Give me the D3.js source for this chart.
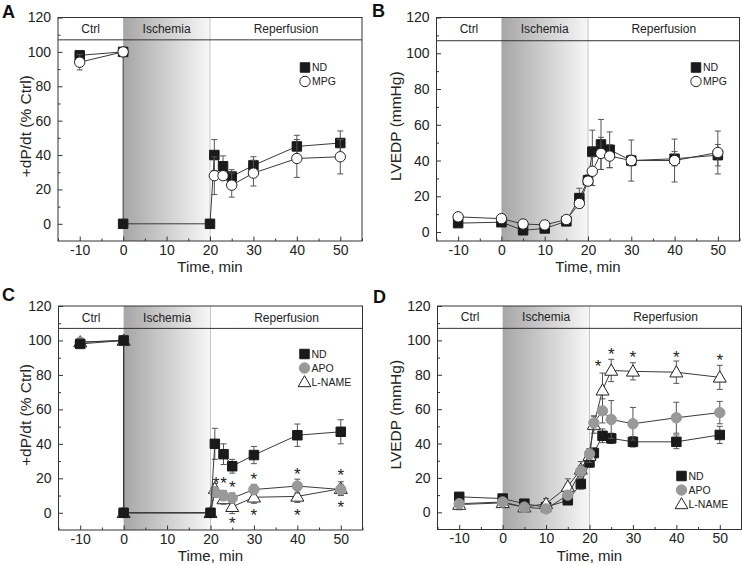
<!DOCTYPE html>
<html><head><meta charset="utf-8">
<script src="https://cdn.jsdelivr.net/npm/d3@7"></script>
<style>body{margin:0;background:#fff} svg{display:block;font-family:"Liberation Sans",Arial,sans-serif}</style>
</head><body><svg id="c" width="742" height="565"></svg>
<script>
// ---------- data ----------
const timesAC = [-10, 0, 0, 20, 21, 23, 25, 30, 40, 50];
const timesBD = [-10, 0, 5, 10, 15, 18, 20, 21, 23, 25, 30, 40, 50];
const xTicks = [-10, 0, 10, 20, 30, 40, 50];
const xMinorTicks = [-15, -5, 5, 15, 25, 35, 45, 55];
const yTicks = [0, 20, 40, 60, 80, 100, 120];
const yMinorTicks = [-10, 10, 30, 50, 70, 90, 110];
const phaseLabels = ["Ctrl", "Ischemia", "Reperfusion"];
const phaseBounds = [-15, 0, 20, 55];

// Panel A: +dP/dt, ND vs MPG
const a_ND      = [98, 100, 0, 0, 40, 33.5, 27.5, 34, 45, 47];
const a_ND_err  = [2, 1, 0, 0, 9, 6, 4, 5, 6.5, 7];
const a_MPG     = [94, 100, null, null, 28, 28, 22.5, 29.5, 38, 39];
const a_MPG_err = [4.5, 1.5, 0, 0, 11, 2, 7, 7.5, 11, 10];

// Panel B: LVEDP, ND vs MPG
const b_ND      = [5, 5.5, 1, 2, 6, 19, 29, 45, 49, 46, 40, 41, 43];
const b_ND_err  = [2, 2, 1.5, 1.5, 2, 5.5, 3, 12, 14, 10, 3, 4, 6];
const b_MPG     = [8.5, 7.5, 4.5, 4, 7, 16, 28.5, 34, 44, 42.5, 40, 40, 44.5];
const b_MPG_err = [2, 1.5, 2, 2, 2, 2, 2, 8, 9, 6.5, 11.5, 12, 12];

// Panel C: +dP/dt, ND vs APO vs L-NAME
const c_ND        = [98, 100, 0, 0, 40, 34, 27, 33.5, 45, 47];
const c_ND_err    = [2, 1, 0, 0, 9, 6, 4, 5, 6.5, 7];
const c_APO       = [99, 100, 0, 0, 12, 10, 8.5, 13.5, 15.5, 13.5];
const c_APO_err   = [2, 1, 1, 1, 3, 3, 3, 3, 4, 3];
const c_LNAME     = [99, 100, 0, 0, 14, 8, 3.5, 9, 9.5, 14];
const c_LNAME_err = [2, 2, 1, 1, 3, 3, 4, 3.5, 3.5, 4];
const c_starsX = [21.3, 23, 25, 30, 40, 50, 25, 30, 40, 50];
const c_starsY = [20, 19.5, 17.5, 22, 25, 24.4, -3.5, 1, 1.3, 5.8];

// Panel D: LVEDP, ND vs APO vs L-NAME
const d_ND        = [9, 8, 5, 3, 7, 16.5, 29, 34.5, 44.5, 43, 41, 41, 45];
const d_ND_err    = [1.5, 1.5, 1, 1.5, 2, 3, 2.5, 3, 4, 3, 3, 4, 5];
const d_APO       = [5, 6, 3, 2, 10, 24, 34, 52, 59, 54, 51.5, 55, 58];
const d_APO_err   = [1.5, 1.5, 1, 1.5, 2, 3, 3, 4, 7, 11, 9.5, 9, 6.5];
const d_LNAME     = [4.5, 5.5, 3, 5, 15, 25, 33, 51, 71, 82.5, 82, 81.5, 78.5];
const d_LNAME_err = [3, 2, 2, 3, 4.5, 4.5, 4, 5, 10, 6.5, 5, 6.5, 7];
const d_starsX = [22, 25, 30, 40, 50];
const d_starsY = [87.3, 94.3, 93, 93, 91.3];

// ---------- styles ----------
const styles = {
  ND:     {sym: "square",   fill: "#1a1a1a", stroke: "#1a1a1a"},
  MPG:    {sym: "circle",   fill: "#ffffff", stroke: "#222"},
  APO:    {sym: "circle",   fill: "#999999", stroke: "#999999"},
  "L-NAME": {sym: "triangle", fill: "#ffffff", stroke: "#222"}
};
const symSize = {square: 90, circle: 85, triangle: 70};
const symType = {square: d3.symbolSquare, circle: d3.symbolCircle, triangle: d3.symbolTriangle};

const panels = [
  {id: "A", lx: 2, ly: 18, left: 58, right: 362, top: 17.5, bottom: 241, ymin: -10,
   ylabel: "+dP/dt (% Ctrl)", yLabX: 31, times: timesAC,
   series: [["ND", a_ND, a_ND_err], ["MPG", a_MPG, a_MPG_err]],
   draw: [0, 1], legend: {x: 305, y: 67.5}},
  {id: "B", lx: 372, ly: 17, left: 436.5, right: 739.5, top: 17.5, bottom: 241, ymin: -5,
   ylabel: "LVEDP (mmHg)", yLabX: 401, times: timesBD,
   series: [["ND", b_ND, b_ND_err], ["MPG", b_MPG, b_MPG_err]],
   draw: [0, 1], legend: {x: 696, y: 67.5}},
  {id: "C", lx: 2, ly: 301, left: 58.5, right: 362.5, top: 306, bottom: 530, ymin: -10,
   ylabel: "+dP/dt (% Ctrl)", yLabX: 31, times: timesAC,
   series: [["ND", c_ND, c_ND_err], ["APO", c_APO, c_APO_err], ["L-NAME", c_LNAME, c_LNAME_err]],
   draw: [2, 1, 0], legend: {x: 304.5, y: 354}, starsX: c_starsX, starsY: c_starsY},
  {id: "D", lx: 373, ly: 303, left: 437.5, right: 741.5, top: 306, bottom: 529.5, ymin: -10,
   ylabel: "LVEDP (mmHg)", yLabX: 401, times: timesBD,
   series: [["ND", d_ND, d_ND_err], ["APO", d_APO, d_APO_err], ["L-NAME", d_LNAME, d_LNAME_err]],
   draw: [0, 2, 1], legend: {x: 681.5, y: 476}, starsX: d_starsX, starsY: d_starsY}
];

const svg = d3.select("#c");
const defs = svg.append("defs");
const grad = defs.append("linearGradient").attr("id", "isch").attr("x1", "0%").attr("x2", "100%");
grad.append("stop").attr("offset", "0%").attr("stop-color", "#a6a6a6");
grad.append("stop").attr("offset", "100%").attr("stop-color", "#f7f7f7");

function marker(g, name, px, py) {
  const st = styles[name];
  g.append("path")
    .attr("d", d3.symbol().type(symType[st.sym]).size(symSize[st.sym] * (st.sym === "triangle" ? 1.05 : 1))())
    .attr("transform", `translate(${px},${py})` + (st.sym === "triangle" ? " translate(0,1)" : ""))
    .attr("fill", st.fill).attr("stroke", st.stroke).attr("stroke-width", 1);
}

panels.forEach(p => {
  const g = svg.append("g");
  const x = d3.scaleLinear().domain([-15, 55]).range([p.left, p.right]);
  const y = d3.scaleLinear().domain([p.ymin, 120]).range([p.bottom, p.top]);

  // ischemia shading
  g.append("rect").attr("x", x(0)).attr("y", y(120)).attr("width", x(20) - x(0))
    .attr("height", y(p.ymin) - y(120)).attr("fill", "url(#isch)");
  g.append("line").attr("x1", x(20)).attr("x2", x(20)).attr("y1", y(120)).attr("y2", y(p.ymin))
    .attr("stroke", "#c4c4c4").attr("stroke-width", 1);

  // header band
  g.append("line").attr("x1", p.left).attr("x2", p.right).attr("y1", y(107)).attr("y2", y(107))
    .attr("stroke", "#333").attr("stroke-width", 1);
  phaseLabels.forEach((t, i) => {
    g.append("text").attr("x", x((phaseBounds[i] + phaseBounds[i + 1]) / 2))
      .attr("y", (y(120) + y(107)) / 2).attr("dy", "0.36em").attr("text-anchor", "middle")
      .attr("font-size", 12).attr("fill", "#222").text(t);
  });

  // axes
  const fmt = d => String(d);
  const xa = g.append("g").attr("transform", `translate(0,${p.bottom})`)
    .call(d3.axisBottom(x).tickValues(xTicks).tickSize(-4.5).tickPadding(4).tickFormat(fmt));
  const xm = g.append("g").attr("transform", `translate(0,${p.bottom})`)
    .call(d3.axisBottom(x).tickValues(xMinorTicks).tickSize(-2.5).tickFormat(""));
  const ya = g.append("g").attr("transform", `translate(${p.left},0)`)
    .call(d3.axisLeft(y).tickValues(yTicks).tickSize(-4.5).tickPadding(7).tickFormat(fmt));
  const ym = g.append("g").attr("transform", `translate(${p.left},0)`)
    .call(d3.axisLeft(y).tickValues(yMinorTicks.filter(v => v > p.ymin)).tickSize(-2.5).tickFormat(""));
  [xa, xm, ya, ym].forEach(a => {
    a.select(".domain").remove();
    a.selectAll("line").attr("stroke", "#333");
    a.selectAll("text").attr("font-size", 14).attr("fill", "#222").attr("font-family", null);
  });

  // frame
  g.append("rect").attr("x", p.left).attr("y", p.top).attr("width", p.right - p.left)
    .attr("height", p.bottom - p.top).attr("fill", "none").attr("stroke", "#333").attr("stroke-width", 1);

  // axis titles
  g.append("text").attr("x", (p.left + p.right) / 2).attr("y", p.bottom + 31)
    .attr("text-anchor", "middle").attr("font-size", 15).attr("fill", "#222").text("Time, min");
  g.append("text").attr("transform", "rotate(-90)").attr("x", -(p.top + p.bottom) / 2 + 3).attr("y", p.yLabX)
    .attr("text-anchor", "middle").attr("font-size", 15.5).attr("fill", "#222").text(p.ylabel);
  // panel letter
  g.append("text").attr("x", p.lx).attr("y", p.ly).attr("font-size", 18).attr("font-weight", "bold")
    .attr("fill", "#111").text(p.id);

  // series
  const line = d3.line().defined(d => d.v != null).x(d => x(d.t)).y(d => y(d.v));
  p.draw.forEach(si => {
    const [name, vals, errs] = p.series[si];
    const data = p.times.map((t, i) => ({t, v: vals[i], e: errs[i]}));
    const sg = g.append("g");
    // error bars
    data.filter(d => d.v != null && d.e > 0).forEach(d => {
      const cx = x(d.t);
      sg.append("line").attr("x1", cx).attr("x2", cx).attr("y1", y(d.v - d.e)).attr("y2", y(d.v + d.e))
        .attr("stroke", "#555").attr("stroke-width", 1);
      [d.v - d.e, d.v + d.e].forEach(v => {
        sg.append("line").attr("x1", cx - 3).attr("x2", cx + 3).attr("y1", y(v)).attr("y2", y(v))
          .attr("stroke", "#555").attr("stroke-width", 1);
      });
    });
    sg.append("path").datum(data).attr("d", line).attr("fill", "none")
      .attr("stroke", "#3a3a3a").attr("stroke-width", 1);
    data.filter(d => d.v != null).forEach(d => marker(sg, name, x(d.t), y(d.v)));
  });

  // asterisks
  if (p.starsX) {
    p.starsX.forEach((t, i) => {
      g.append("text").attr("x", x(t)).attr("y", y(p.starsY[i])).attr("dy", "0.6em")
        .attr("text-anchor", "middle").attr("font-size", 17).attr("fill", "#222").text("*");
    });
  }

  // legend
  p.series.forEach(([name], i) => {
    const ly = p.legend.y + i * 14;
    const st = styles[name];
    g.append("path").attr("d", d3.symbol().type(symType[st.sym]).size(symSize[st.sym])())
      .attr("transform", `translate(${p.legend.x},${ly + (st.sym === "triangle" ? 1 : 0)})`)
      .attr("fill", st.fill).attr("stroke", st.stroke);
    g.append("text").attr("x", p.legend.x + 7).attr("y", ly).attr("dy", "0.36em")
      .attr("font-size", 10.5).attr("fill", "#222").text(name);
  });
});
</script></body></html>
